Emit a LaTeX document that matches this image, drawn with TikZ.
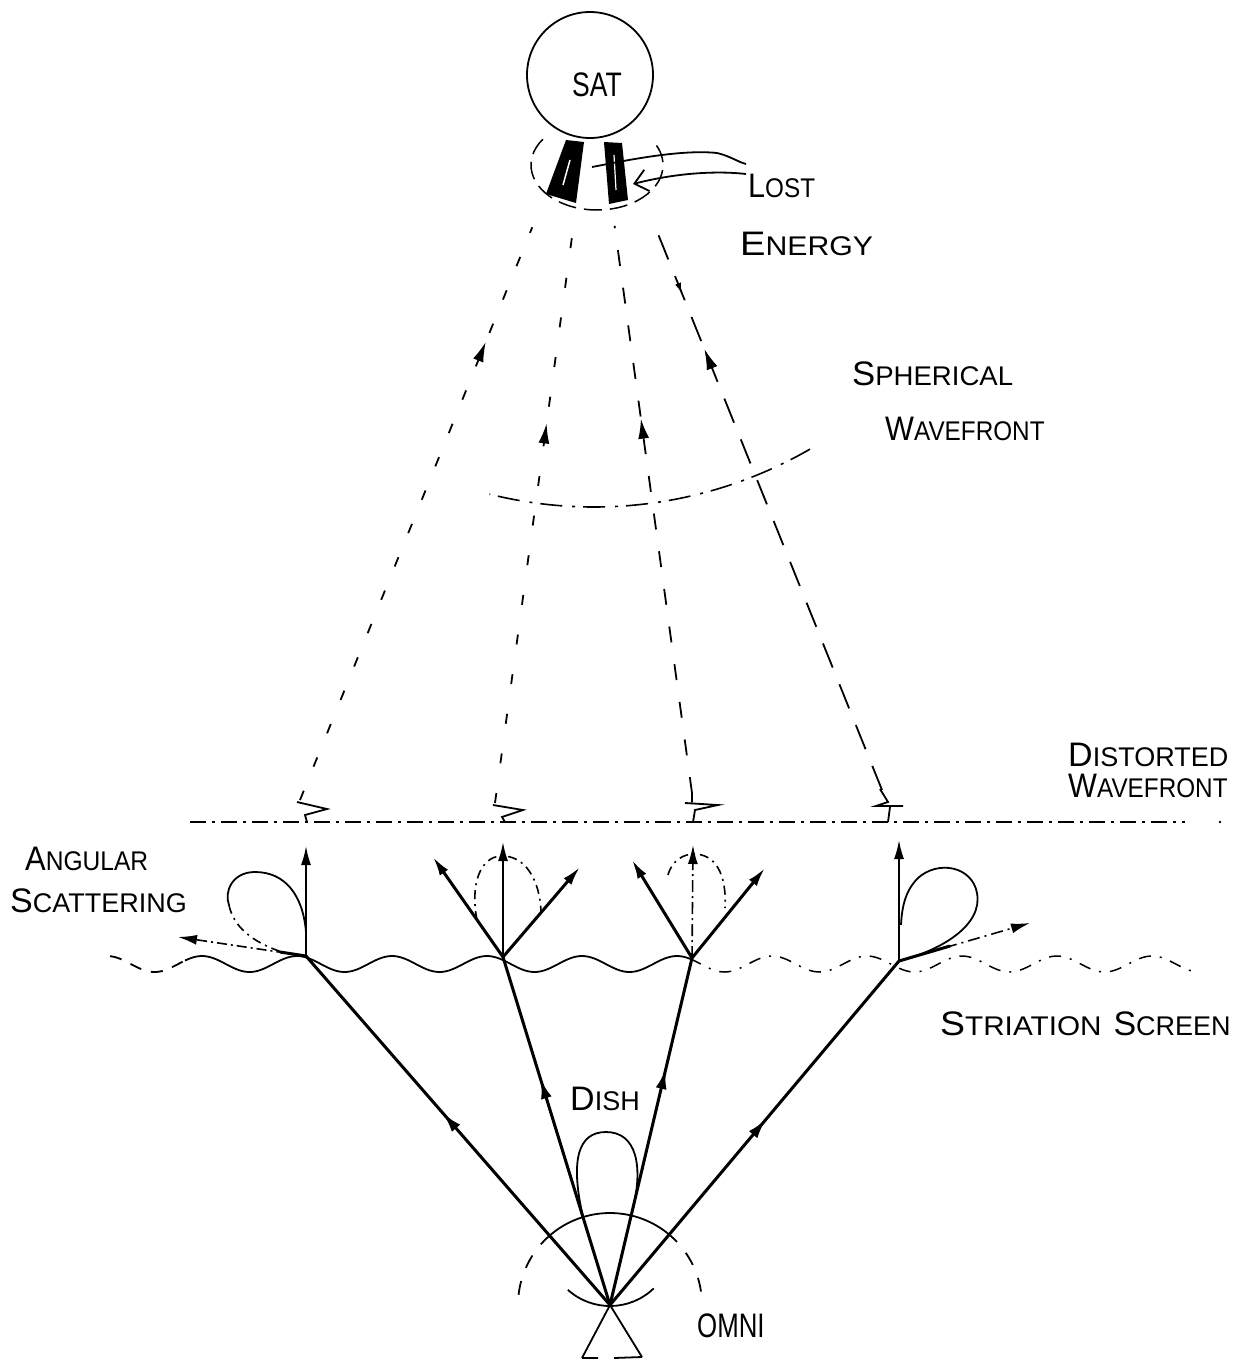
\documentclass[tikz,border=0pt]{standalone}
\usepackage{fontspec}
\usepackage{graphicx}
\setmainfont{Liberation Sans}
\usetikzlibrary{arrows.meta,decorations.markings,calc}

% hand-lettered small caps: large initial, smaller rest
\newcommand\lettr[2]{{\fontsize{34pt}{34pt}\selectfont #1}{\fontsize{27pt}{27pt}\selectfont #2}}
\newcommand\bigcaps[1]{{\fontsize{34pt}{34pt}\selectfont #1}}

\begin{document}
\begin{tikzpicture}[x=1pt,y=-1pt,
  lbl/.style={inner sep=0pt, anchor=base west},
  thinline/.style={line width=1.8pt},
  beam/.style={line width=3pt},
  tip/.style={-{Latex[length=19pt,width=10pt]}},
  raydash/.style={line width=1.8pt, dash pattern=on 16pt off 22pt},
  dashdot/.style={line width=1.6pt, dash pattern=on 14pt off 5pt on 2pt off 5pt},
  lobe/.style={line width=1.6pt, dash pattern=on 9pt off 5pt on 2pt off 5pt},
  sparse/.style={line width=1.8pt, dash pattern=on 14pt off 14pt},
  midarrow/.style={postaction={decorate}, decoration={markings,
      mark=at position #1 with {\arrow{Latex[length=20pt,width=11pt]}}}},
]
\useasboundingbox (0,0) rectangle (1240,1365);

% ---------- satellite ----------
\coordinate (sat) at (594,75);
\node[circle, draw, line width=1.8pt, minimum size=126pt, inner sep=0pt] (satbody) at (590,75) {};
\node[inner sep=0pt] (satlbl) at (597,85) {\scalebox{0.78}[1]{\bigcaps{SAT}}};

% antenna legs
\fill (566,140) -- (584,142) -- (576,203) -- (546,194) -- cycle;
\fill (604,142) -- (622,143) -- (628,200) -- (609,204) -- cycle;
\draw[white, line width=1.5pt] (570,160) -- (563,185);
\draw[white, line width=1.2pt] (614,155) -- (616,190);
% dashed pattern envelope round the legs
\draw[line width=1.5pt, dash pattern=on 18pt off 8pt] (597,165) ++(215:66 and 45)
  arc[start angle=215, end angle=-30, x radius=66, y radius=45];

% lost energy labels and leaders
\node[lbl] (lost) at (748,197) {\scalebox{0.9}[1]{\lettr{L}{OST}}};
\node[lbl] (energy) at (740,255) {\scalebox{1.12}[1]{\lettr{E}{NERGY}}};
\coordinate (lostA) at (746,164);
\coordinate (lostB) at (746,174);
\coordinate (legIn) at (592,167);
\coordinate (legOut) at (633,184);
\draw[thinline] (legIn) -- (618,162) .. controls (650,156) and (690,150) .. (717,153)
  .. controls (730,156) and (738,162) .. (lostA);
\draw[thinline, -{Straight Barb[length=13pt,width=22pt,line width=1.8pt]}]
  (lostB) .. controls (720,171) and (680,172) .. (legOut);

% ---------- rays from the satellite ----------
\coordinate (E1) at (300,800);
\coordinate (E2) at (495,803);
\coordinate (E3) at (692,793);
\coordinate (E4) at (882,790);
\draw[raydash, dash pattern=on 10pt off 26pt, midarrow=0.80] (E1) -- ($(E1)!0.79!(sat)$);
\draw[raydash, dash pattern=on 10pt off 30pt, midarrow=0.66] (E2) -- ($(E2)!0.79!(sat)$);
\draw[raydash, dash pattern=on 16pt off 22pt, midarrow=0.66] (E3) -- ($(E3)!0.79!(sat)$);
\draw[raydash, dash pattern=on 26pt off 18pt, midarrow=0.78,
  postaction={decorate}, decoration={markings,
    mark=at position 0.88 with {\arrowreversed{Latex[length=10pt,width=6pt]}}}]
  (E4) -- ($(E4)!0.79!(sat)$);

% spherical wavefront
\draw[dashdot, dash pattern=on 22pt off 8pt on 3pt off 10pt] (sat) ++(60:432)
  arc[start angle=60, end angle=104, radius=432];
\node[lbl] (sph1) at (852,385) {\scalebox{1.02}[1]{\lettr{S}{PHERICAL}}};
\node[lbl] (sph2) at (885,440) {\scalebox{0.9}[1]{\lettr{W}{AVEFRONT}}};

% ---------- distorted wavefront ----------
\draw[line width=1.6pt, dash pattern=on 16pt off 6pt on 3pt off 6pt] (190,822) -- (1185,822);
\fill (1220,822) circle (1.3pt);
\draw[thinline] (297,802) -- (327,809) -- (305,815) -- (307,822);
\draw[thinline] (493,805) -- (523,810) -- (502,817) -- (505,822);
\draw[thinline] (692,792) -- (692,802) (685,803) -- (718,805) -- (695,810) -- (693,822);
\draw[thinline] (880,789) -- (888,802) -- (876,806) -- (903,806) (890,807) -- (888,822);
\node[inner sep=0pt, anchor=base west, align=left, font=\fontsize{27pt}{31pt}\selectfont]
  (dist) at (1068,797) {\lettr{D}{ISTORTED}\\\scalebox{0.9}[1]{\lettr{W}{AVEFRONT}}};

% ---------- striation screen ----------
\draw[sparse, dash pattern=on 12pt off 10pt] plot[domain=110:185, samples=30] (\x, {964-8*cos(3.78947*(\x-487))});
\draw[thinline] plot[domain=185:690, samples=160] (\x, {964-8*cos(3.78947*(\x-487))});
\draw[line width=1.5pt, dash pattern=on 12pt off 9pt on 2pt off 9pt] plot[domain=690:1195, samples=160] (\x, {964-8*cos(3.78947*(\x-487))});
\node[lbl] (stri) at (940,1035) {\scalebox{1.1}[1]{\lettr{S}{TRIATION}}\hspace{12pt}\lettr{S}{CREEN}};

% ---------- ground antenna ----------
\coordinate (O) at (610,1305);
\coordinate (J1) at (306,956);
\coordinate (J2) at (503,957);
\coordinate (J3) at (692,958);
\coordinate (J4) at (899,961);

\draw[beam, midarrow=0.55] (O) -- (J1);
\draw[beam, midarrow=0.65] (O) -- (J2);
\draw[beam, midarrow=0.68] (O) -- (J3);
\draw[beam, midarrow=0.54] (O) -- (J4);

% stand
\coordinate (footL) at (582,1358);
\coordinate (footR) at (642,1357);
\draw[thinline] (footL) -- (O) -- (footR);
\draw[thinline] (footL) -- (598,1358) (614,1358) -- (footR);

% reflector and omni pattern
\draw[thinline] (610,1243) ++(132:63) arc[start angle=132, end angle=46, radius=63];
\draw[thinline] (O) ++(-130:92) arc[start angle=-130, end angle=-52, radius=92];
\draw[sparse] (O) ++(-52:92) arc[start angle=-52, end angle=-5, radius=92];
\draw[sparse] (O) ++(-130:92) arc[start angle=-130, end angle=-178, radius=92];
% dish pattern
\draw[thinline] (583,1217) .. controls (570,1160) and (578,1132) .. (606,1132)
  .. controls (636,1132) and (645,1165) .. (631,1217);
\node[lbl] (dish) at (570,1110) {\lettr{D}{ISH}};
\node[lbl] (omni) at (697,1337) {\scalebox{0.76}[1]{\bigcaps{OMNI}}};

% ---------- scattering at the screen ----------
% left point
\coordinate (U1) at (306,846);
\coordinate (S1) at (178,937);
\draw[thinline, tip] (J1) -- (U1);
\draw[dashdot, dash pattern=on 10pt off 4pt on 2pt off 4pt, -{Latex[length=19pt,width=10pt]}] (J1) -- (S1);
\draw[beam] (J1) -- (280,952);
\draw[thinline] (306,932) .. controls (303,895) and (285,872) .. (255,872)
  .. controls (232,872) and (224,892) .. (229,905);
\draw[lobe] (229,905) .. controls (233,925) and (250,942) .. (285,953);
\node[lbl] (ang1) at (25,870) {\scalebox{0.91}[1]{\lettr{A}{NGULAR}}};
\node[lbl] (ang2) at (10,912) {\lettr{S}{CATTERING}};

% second point
\coordinate (L2) at (433,857);
\coordinate (U2) at (503,842);
\coordinate (R2) at (580,867);
\draw[beam, tip] (J2) -- (L2);
\draw[thinline, tip] (J2) -- (U2);
\draw[beam, tip] (J2) -- (R2);
\draw[lobe] (477,920) .. controls (470,885) and (480,857) .. (501,856)
  .. controls (525,855) and (540,880) .. (541,912);

% third point
\coordinate (L3) at (632,860);
\coordinate (U3) at (693,845);
\coordinate (R3) at (765,868);
\draw[beam, tip] (J3) -- (L3);
\draw[dashdot, dash pattern=on 12pt off 4pt on 2pt off 4pt, -{Latex[length=19pt,width=10pt]}] (J3) -- (U3);
\draw[beam, tip] (J3) -- (R3);
\draw[lobe] (668,875) .. controls (672,860) and (684,854) .. (694,854)
  .. controls (714,854) and (727,872) .. (725,908);

% fourth point
\coordinate (U4) at (899,840);
\coordinate (R4) at (1030,923);
\draw[thinline, tip] (J4) -- (U4);
\draw[dashdot, dash pattern=on 12pt off 5pt on 2pt off 5pt, -{Latex[length=19pt,width=10pt]}] (J4) -- (R4);
\draw[beam] (J4) -- (950,946);
\draw[thinline] (J4) .. controls (942,950) and (983,925) .. (977,893)
  .. controls (972,866) and (938,860) .. (918,878)
  .. controls (906,890) and (902,905) .. (901,925);
\end{tikzpicture}
\end{document}
